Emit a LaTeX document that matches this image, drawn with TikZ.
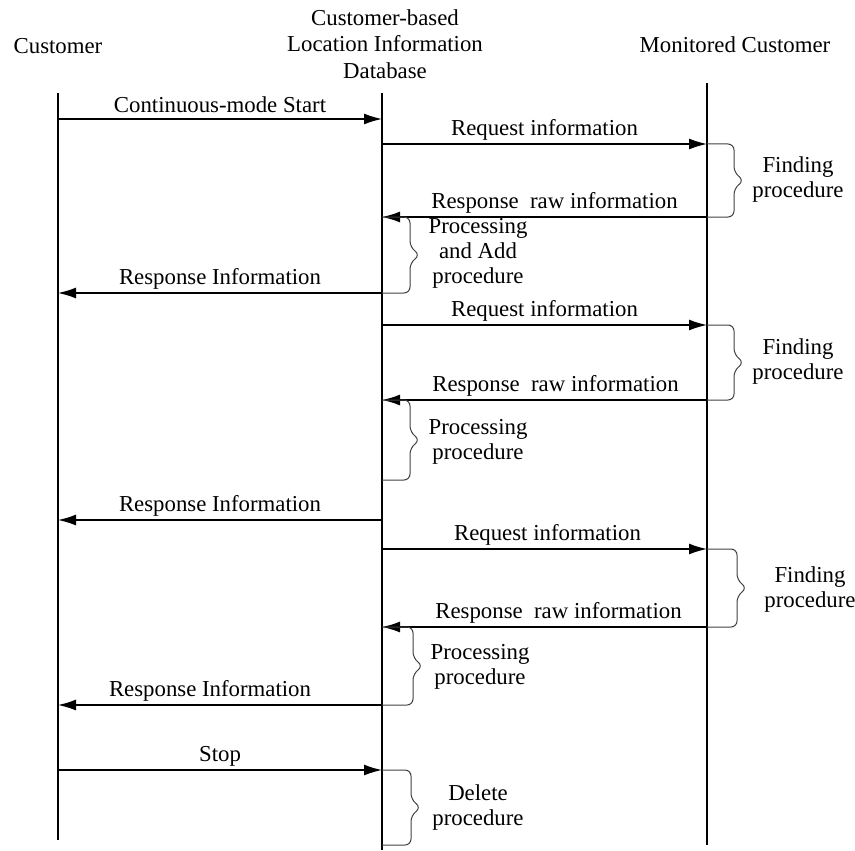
\documentclass[tikz,border=0pt]{standalone}
\usepackage{fontspec}
\setmainfont{Liberation Serif}
\usetikzlibrary{arrows.meta,calc}

% Curly bracket hanging off a lifeline: #1 lifeline x, #2 top y, #3 bottom y, #4 spine x
\newcommand\procbrace[4]{%
  \draw[bracestyle] (#1,#2) -- (#4,#2) -- (#4,{(#2+#3)/2-8}) -- ({#4+10},{(#2+#3)/2})
    -- (#4,{(#2+#3)/2+8}) -- (#4,#3) -- (#1,#3);}

\begin{document}
\begin{tikzpicture}[x=0.5pt,y=-0.5pt,
  lifeline/.style={line width=1pt},
  msg/.style={line width=0.7pt,-{Latex[length=9pt,width=5.5pt]}},
  lbl/.style={font=\fontsize{11.4}{12.5}\selectfont, inner sep=0pt, align=center},
  msglbl/.style={lbl, midway, yshift=7pt},
  bracestyle/.style={line width=0.5pt, draw=black!75, rounded corners=3pt}]
\useasboundingbox (0,0) rectangle (855,850);

% participants
\node[lbl] (cust) at (58,46) {Customer};
\node[lbl, font=\fontsize{11.4}{13.3}\selectfont] (db) at (385,44) {Customer-based\\Location Information\\Database};
\node[lbl] (mon) at (735,45) {Monitored Customer};

% lifelines
\coordinate (c0) at (58,93);   \coordinate (c1) at (58,840);
\coordinate (d0) at (382,93);  \coordinate (d1) at (382,850);
\coordinate (m0) at (707,83);  \coordinate (m1) at (707,845);
\draw[lifeline] (c0) -- (c1);
\draw[lifeline] (d0) -- (d1);
\draw[lifeline] (m0) -- (m1);

% message rows
\coordinate (r1) at (0,119);
\coordinate (r2) at (0,144);
\coordinate (r3) at (0,217);
\coordinate (r4) at (0,293);
\coordinate (r5) at (0,325);
\coordinate (r6) at (0,400);
\coordinate (r8) at (0,520);
\coordinate (r9) at (0,549);
\coordinate (r10) at (0,627);
\coordinate (r11) at (0,705);
\coordinate (r12) at (0,770);

% messages
\draw[msg] (c0 |- r1) -- (d0 |- r1) node[msglbl] (start) {Continuous-mode Start};
\draw[msg] (d0 |- r2) -- (m0 |- r2) node[msglbl] (req1) {Request information};
\draw[msg] (m0 |- r3) -- (d0 |- r3) node[msglbl, xshift=5pt] (raw1) {Response~ raw information};
\draw[msg] (d0 |- r4) -- (c0 |- r4) node[msglbl] (info1) {Response Information};
\draw[msg] (d0 |- r5) -- (m0 |- r5) node[msglbl] (req2) {Request information};
\draw[msg] (m0 |- r6) -- (d0 |- r6) node[msglbl, xshift=5.5pt] (raw2) {Response~ raw information};
\draw[msg] (d0 |- r8) -- (c0 |- r8) node[msglbl] (info2) {Response Information};
\draw[msg] (d0 |- r9) -- (m0 |- r9) node[msglbl, xshift=1.5pt] (req3) {Request information};
\draw[msg] (m0 |- r10) -- (d0 |- r10) node[msglbl, xshift=7pt] (raw3) {Response~ raw information};
\draw[msg] (d0 |- r11) -- (c0 |- r11) node[msglbl, xshift=-5pt] (info3) {Response Information};
\draw[msg] (c0 |- r12) -- (d0 |- r12) node[msglbl] (stop) {Stop};

% procedure brackets
\procbrace{707}{144}{217}{734}
\procbrace{382}{217}{293}{410}
\procbrace{707}{325}{400}{734}
\procbrace{382}{400}{480}{410}
\procbrace{707}{549}{627}{737}
\procbrace{382}{627}{705}{413}
\procbrace{382}{770}{845}{411}

\node[lbl] (find1) at (798,180) {Finding\\procedure};
\node[lbl] (proc1) at (478,253) {Processing\\and Add\\procedure};
\node[lbl] (find2) at (798,362) {Finding\\procedure};
\node[lbl] (proc2) at (478,442) {Processing\\procedure};
\node[lbl] (find3) at (810,590) {Finding\\procedure};
\node[lbl] (proc3) at (480,667) {Processing\\procedure};
\node[lbl] (del) at (478,808) {Delete\\procedure};
\end{tikzpicture}
\end{document}
